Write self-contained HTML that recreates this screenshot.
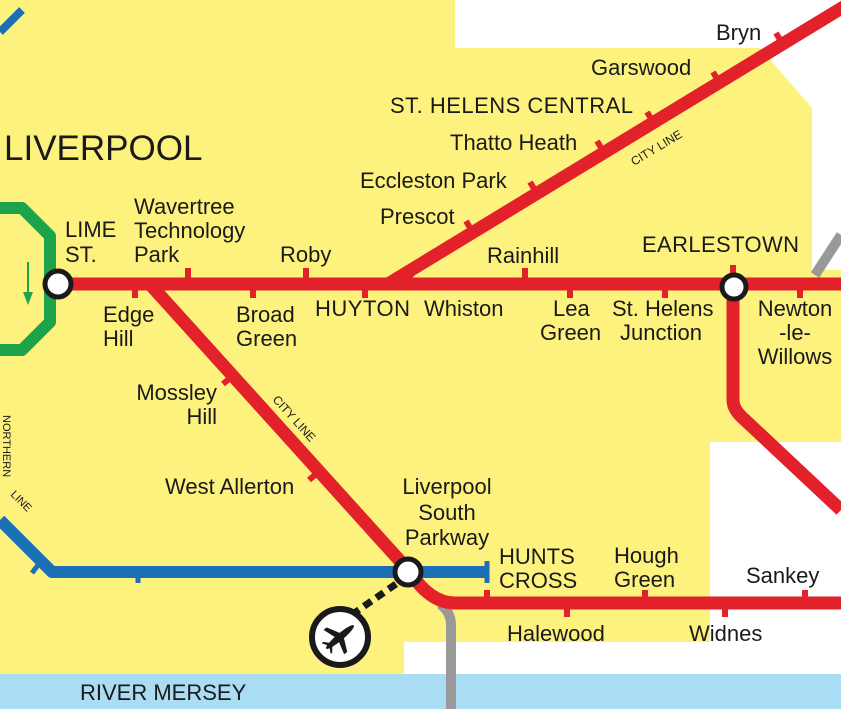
<!DOCTYPE html>
<html><head><meta charset="utf-8"><style>
html,body{margin:0;padding:0;background:#fdf27e}
svg{display:block}
text{font-family:"Liberation Sans",sans-serif;fill:#1a1a1a}
</style></head><body>
<svg width="841" height="709" viewBox="0 0 841 709" xmlns="http://www.w3.org/2000/svg">
<rect width="841" height="709" fill="#fdf27e"/>
<polygon points="455,0 841,0 841,270 812,270 812,108 760,48 455,48" fill="#ffffff"/>
<rect x="710" y="442" width="131" height="240" fill="#ffffff"/>
<rect x="404" y="642" width="437" height="40" fill="#ffffff"/>
<rect x="0" y="674" width="841" height="35" fill="#aadcf4"/>
<path d="M440,604 Q451,612 451,625 L451,709" stroke="#999" stroke-width="10" fill="none"/>
<path d="M815,275 L841,235" stroke="#999" stroke-width="10" fill="none"/>
<path d="M0,208 L22,208 L50,236 L50,322 L22,350 L0,350" stroke="#1da34a" stroke-width="12" fill="none" stroke-linejoin="round"/>
<line x1="28" y1="262" x2="28" y2="296" stroke="#1da34a" stroke-width="2"/>
<polygon points="23,292 33,292 28,305" fill="#1da34a"/>
<line x1="0" y1="32" x2="22" y2="10" stroke="#1a6fb5" stroke-width="8"/>
<path d="M0,520 L52,572 L487,572" stroke="#1a6fb5" stroke-width="12" fill="none" stroke-linejoin="round"/>
<line x1="487" y1="561" x2="487" y2="583" stroke="#1a6fb5" stroke-width="5"/>
<line x1="38" y1="565" x2="32" y2="573" stroke="#1a6fb5" stroke-width="5"/>
<line x1="138" y1="572" x2="138" y2="583" stroke="#1a6fb5" stroke-width="5"/>
<g stroke="#e3212a" fill="none" stroke-width="13">
<line x1="58" y1="284" x2="841" y2="284"/>
<path d="M388,284 L845,6"/>
<path d="M148,282 L410,572 Q430,603 455,603 L841,603"/>
<path d="M733,287 L733,400 Q733,410 745,420 L841,510"/>
</g>
<polygon points="388,290 420,270 400,290" fill="#e3212a"/>
<g stroke="#e3212a" stroke-width="6">
<line x1="188" y1="268" x2="188" y2="280"/>
<line x1="306" y1="268" x2="306" y2="280"/>
<line x1="525" y1="268" x2="525" y2="280"/>
<line x1="733" y1="265" x2="733" y2="280"/>
<line x1="135" y1="288" x2="135" y2="298"/>
<line x1="253" y1="288" x2="253" y2="298"/>
<line x1="365" y1="288" x2="365" y2="298"/>
<line x1="570" y1="288" x2="570" y2="298"/>
<line x1="665" y1="288" x2="665" y2="298"/>
<line x1="800" y1="288" x2="800" y2="298"/>
<line x1="466" y1="221" x2="472" y2="231"/>
<line x1="530" y1="182" x2="536" y2="192"/>
<line x1="597" y1="141" x2="603" y2="151"/>
<line x1="647" y1="112" x2="653" y2="122"/>
<line x1="713" y1="72" x2="719" y2="82"/>
<line x1="776" y1="33" x2="782" y2="43"/>
<line x1="230" y1="378" x2="223" y2="384"/>
<line x1="316" y1="474" x2="309" y2="480"/>
<line x1="487" y1="590" x2="487" y2="600"/>
<line x1="645" y1="590" x2="645" y2="600"/>
<line x1="805" y1="590" x2="805" y2="600"/>
<line x1="567" y1="606" x2="567" y2="617"/>
<line x1="725" y1="606" x2="725" y2="617"/>
</g>
<circle cx="58" cy="284" r="13" fill="#fff" stroke="#1a1a1a" stroke-width="5"/>
<circle cx="734" cy="287" r="12" fill="#fff" stroke="#1a1a1a" stroke-width="5"/>
<line x1="396" y1="584" x2="350" y2="616" stroke="#1a1a1a" stroke-width="7" stroke-dasharray="9,6"/>
<circle cx="408" cy="572" r="13" fill="#fff" stroke="#1a1a1a" stroke-width="5"/>
<circle cx="340" cy="637" r="28" fill="#fff" stroke="#1a1a1a" stroke-width="6"/>
<g transform="translate(340,637) rotate(-40)" fill="#1a1a1a">
<ellipse cx="0" cy="0" rx="18" ry="3.5"/>
<polygon points="-3,0 4,0 -4,-16 -8,-16"/>
<polygon points="-3,0 4,0 -4,16 -8,16"/>
<polygon points="-14,0 -10,0 -16,-7 -18,-7"/>
<polygon points="-14,0 -10,0 -16,7 -18,7"/>
</g>
<g font-size="22">
<text x="4" y="160" font-size="35">LIVERPOOL</text>
<text x="716" y="40">Bryn</text>
<text x="591" y="75">Garswood</text>
<text x="390" y="113" textLength="243">ST. HELENS CENTRAL</text>
<text x="450" y="150">Thatto Heath</text>
<text x="360" y="188">Eccleston Park</text>
<text x="380" y="224">Prescot</text>
<text x="65" y="237">LIME</text><text x="65" y="262">ST.</text>
<text x="134" y="214">Wavertree</text><text x="134" y="238">Technology</text><text x="134" y="262">Park</text>
<text x="280" y="262">Roby</text>
<text x="487" y="263">Rainhill</text>
<text x="642" y="252" textLength="157">EARLESTOWN</text>
<text x="103" y="322">Edge</text><text x="103" y="346">Hill</text>
<text x="236" y="322">Broad</text><text x="236" y="346">Green</text>
<text x="315" y="316" textLength="95">HUYTON</text>
<text x="424" y="316">Whiston</text>
<text x="553" y="316">Lea</text><text x="540" y="340">Green</text>
<text x="612" y="316">St. Helens</text><text x="620" y="340">Junction</text>
<text x="795" y="316" text-anchor="middle">Newton</text><text x="795" y="340" text-anchor="middle">-le-</text><text x="795" y="364" text-anchor="middle">Willows</text>
<text x="217" y="400" text-anchor="end">Mossley</text><text x="217" y="424" text-anchor="end">Hill</text>
<text x="165" y="494">West Allerton</text>
<text x="447" y="494" text-anchor="middle">Liverpool</text><text x="447" y="520" text-anchor="middle">South</text><text x="447" y="545" text-anchor="middle">Parkway</text>
<text x="499" y="564">HUNTS</text><text x="499" y="588">CROSS</text>
<text x="614" y="563">Hough</text><text x="614" y="587">Green</text>
<text x="746" y="583">Sankey</text>
<text x="507" y="641">Halewood</text>
<text x="689" y="641">Widnes</text>
<text x="80" y="700">RIVER MERSEY</text>
</g>
<text font-size="12" transform="translate(634,166) rotate(-31)">CITY LINE</text>
<text font-size="12" transform="translate(272,400) rotate(48)">CITY LINE</text>
<text font-size="11" transform="translate(3,415) rotate(90)">NORTHERN</text>
<text font-size="11" transform="translate(10,495) rotate(45)">LINE</text>
</svg>
</body></html>
